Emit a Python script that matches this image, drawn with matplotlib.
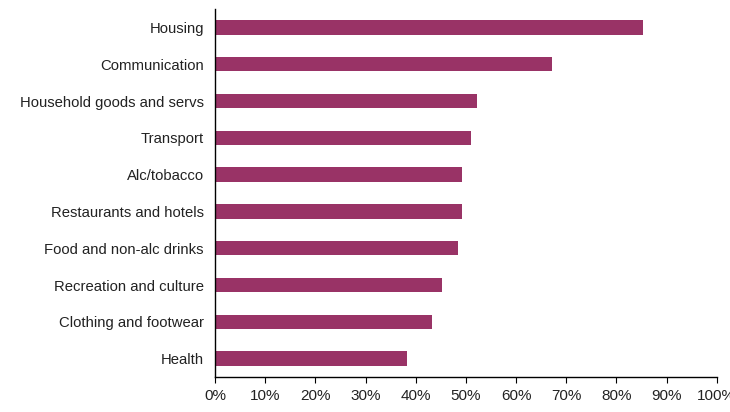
import numpy as np
import matplotlib.pyplot as plt
from matplotlib.ticker import PercentFormatter

plt.rcParams['font.family'] = ['Liberation Sans', 'DejaVu Sans']

# share of categories, top to bottom
categories = ['Housing', 'Communication', 'Household goods and servs', 'Transport',
              'Alc/tobacco', 'Restaurants and hotels', 'Food and non-alc drinks',
              'Recreation and culture', 'Clothing and footwear', 'Health']
values = [85.3, 67.1, 52.3, 51.1, 49.2, 49.2, 48.4, 45.3, 43.2, 38.2]
x_ticks = np.arange(0, 101, 10)

fig = plt.figure(figsize=(7.3, 4.12), dpi=100)
ax = fig.add_axes([0.2945, 0.085, 0.6875, 0.893])

pos = np.arange(len(categories))
ax.barh(pos, values, height=0.39, color='#993366')

ax.set_ylim(len(categories) - 0.5, -0.5)
ax.set_xlim(0, 100)
ax.set_yticks(pos)
ax.set_yticklabels(categories)
ax.set_xticks(x_ticks)
ax.xaxis.set_major_formatter(PercentFormatter(decimals=0))

for s in ['top', 'right']:
    ax.spines[s].set_visible(False)
for s in ['left', 'bottom']:
    ax.spines[s].set_color('black')
    ax.spines[s].set_linewidth(1.0)

ax.tick_params(axis='y', length=0, pad=8, labelsize=10.7, labelcolor='#222222')
ax.tick_params(axis='x', length=4, direction='out', pad=5, labelsize=11,
               labelcolor='#222222')

fig.savefig('out.png', dpi=100)
